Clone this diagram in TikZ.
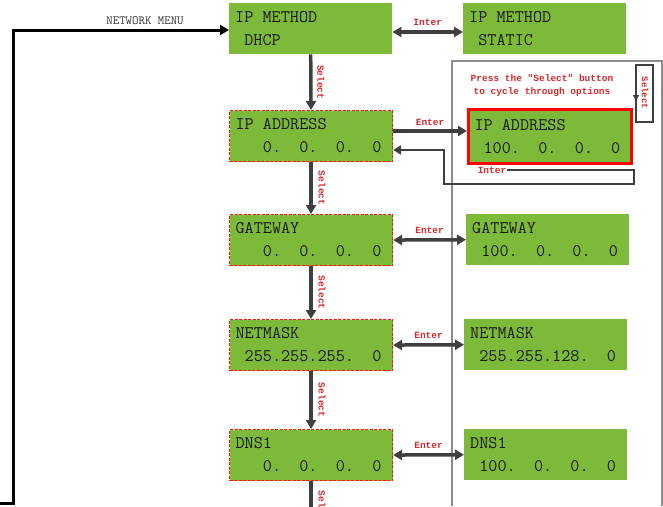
\documentclass[tikz,border=0pt]{standalone}
\usepackage{fontspec}
\newfontfamily\lcdfont{Liberation Mono}
\usetikzlibrary{arrows.meta}
\definecolor{lcdgreen}{HTML}{7DBA3A}
\definecolor{arrowgray}{HTML}{3F3F3F}
\definecolor{labred}{HTML}{D42A2A}
\definecolor{panelgray}{HTML}{8C8C8C}
\newcommand\ls{\hphantom{0}}
\begin{document}
\begin{tikzpicture}[x=1pt,y=-1pt,
  lcd/.style={rectangle, fill=lcdgreen, minimum width=163pt, minimum height=51pt,
    inner xsep=6pt, inner ysep=0pt, text width=151pt, align=left, anchor=north west,
    font=\ttfamily\fontsize{17.7}{23}\selectfont, text=black!90},
  lcddash/.style={lcd, draw=red!85!orange, dash pattern=on 3pt off 1.5pt, line width=1.1pt},
  lcdred/.style={lcd, minimum height=54pt, draw=red, line width=3pt},
  dbl/.style={draw=arrowgray, line width=3.5pt, {Triangle[length=9pt,width=10pt]}-{Triangle[length=9pt,width=10pt]}},
  sgl/.style={draw=arrowgray, line width=3.5pt, -{Triangle[length=9pt,width=10pt]}},
  ret/.style={draw=arrowgray, line width=2.5pt, -{Triangle[length=8pt,width=9pt]}},
  redlab/.style={text=labred, font=\lcdfont\bfseries\fontsize{9.5}{11}\selectfont, inner sep=1pt},
  sellab/.style={redlab, rotate=-90},
  panel/.style={draw=panelgray, line width=1.2pt},
  menuline/.style={draw=black, line width=3pt, -{Triangle[length=9pt,width=10pt]}}
]
\useasboundingbox (0,0) rectangle (663,506);
\clip (0,0) rectangle (663,506);

% panel on the right
\draw[panel] (452,506) -- (452,61) -- (662,61) -- (662,506);

% boxes
\node[lcd] (dhcp) at (229,3) {IP\ls METHOD\\\ls DHCP};
\node[lcd] (static) at (463,3) {IP\ls METHOD\\\ls STATIC};
\node[lcddash] (ipL) at (229,110) {IP\ls ADDRESS\\\ls\ls\ls 0.\ls\ls 0.\ls\ls 0.\ls\ls 0};
\node[lcdred] (ipR) at (467,108) {IP\ls ADDRESS\\\ls 100.\ls\ls 0.\ls\ls 0.\ls\ls 0};
\node[lcddash] (gwL) at (229,214) {GATEWAY\\\ls\ls\ls 0.\ls\ls 0.\ls\ls 0.\ls\ls 0};
\node[lcd] (gwR) at (466,214) {GATEWAY\\\ls 100.\ls\ls 0.\ls\ls 0.\ls\ls 0};
\node[lcddash] (nmL) at (229,319) {NETMASK\\\ls 255.255.255.\ls\ls 0};
\node[lcd] (nmR) at (464,319) {NETMASK\\\ls 255.255.128.\ls\ls 0};
\node[lcddash] (dnsL) at (229,429) {DNS1\\\ls\ls\ls 0.\ls\ls 0.\ls\ls 0.\ls\ls 0};
\node[lcd] (dnsR) at (464,429) {DNS1\\\ls 100.\ls\ls 0.\ls\ls 0.\ls\ls 0};

% network menu entry line
\coordinate (menuend) at (0,503);
\coordinate (menucorner) at (13,503);
\coordinate (menutop) at (13,30);
\draw[menuline, line join=miter] (menuend) -- (menucorner) -- (menutop) -- (dhcp.west |- menutop);
\node[font=\ttfamily\fontsize{12.5}{14}\selectfont, text=black!80] (menulab) at (145,21) {NETWORK MENU};

% top enter arrow
\draw[dbl] (dhcp.east |- 0,32) -- (static.west |- 0,32) node[midway, above=4pt, redlab] {Inter};

% select arrows
\draw[sgl] (dhcp.south) -- (ipL.north) node[midway, xshift=10pt, sellab] {Select};
\draw[sgl] (ipL.south) -- (gwL.north) node[midway, xshift=11pt, sellab] {Select};
\draw[sgl] (gwL.south) -- (nmL.north) node[midway, xshift=11pt, sellab] {Select};
\draw[sgl] (nmL.south) -- (dnsL.north) node[midway, xshift=11pt, sellab] {Select};
\coordinate (dnsbot) at (dnsL.south |- 0,515);
\draw[draw=arrowgray, line width=3.5pt] (dnsL.south) -- (dnsbot);
\node[sellab] (sel5) at ([xshift=11pt]dnsL.south |- 0,508) {Select};

% IP address enter and return
\draw[sgl] (ipL.east |- 0,131) -- (ipR.west |- 0,131) node[midway, above=3pt, redlab] {Enter};
\node[redlab] (retlab) at (492,170) {Inter};
\coordinate (r1) at (634,170);
\coordinate (r2) at (634,184);
\coordinate (r3) at (444,184);
\coordinate (r4) at (444,150);
\draw[ret, line join=miter] (retlab.east) -- (r1) -- (r2) -- (r3) -- (r4) -- (ipL.east |- r4);

% other enter arrows
\draw[dbl] (gwL.east) -- (gwR.west) node[midway, above=4pt, redlab] {Enter};
\draw[dbl] (nmL.east) -- (nmR.west) node[midway, above=4pt, redlab] {Enter};
\draw[dbl] (dnsL.east) -- (dnsR.west) node[midway, above=4pt, redlab] {Enter};

% note text
\node[redlab, align=center, font=\lcdfont\bfseries\fontsize{9.5}{13}\selectfont] (note) at (542,86) {Press the "Select" button\\to cycle through options};

% select loop box
\coordinate (sb1) at (636,65);
\coordinate (sb2) at (653,122);
\draw[draw=arrowgray, line width=1.6pt] (sb1) rectangle (sb2);
\draw[draw=arrowgray, line width=1.6pt, -{Triangle[length=6pt,width=6pt]}] (sb1) -- (636,101);
\node[sellab, font=\lcdfont\bfseries\fontsize{9}{10}\selectfont] (selbox) at (645,93) {Select};
\end{tikzpicture}
\end{document}
